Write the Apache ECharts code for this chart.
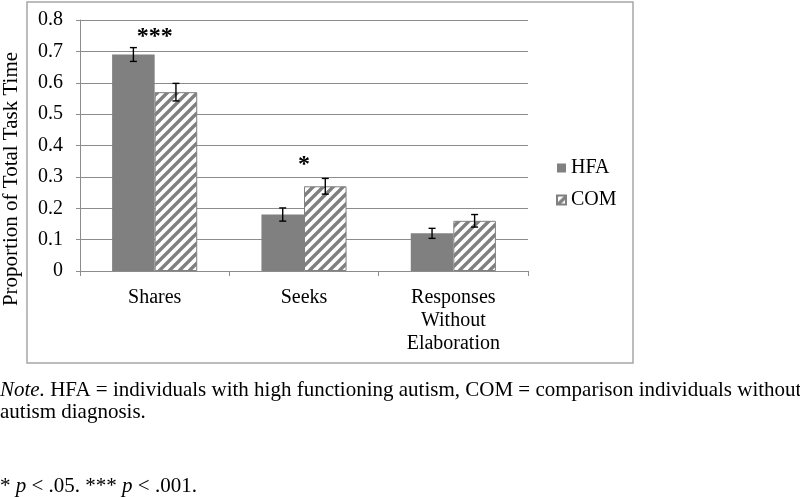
<!DOCTYPE html>
<html>
<head>
<meta charset="utf-8">
<script src="https://cdn.jsdelivr.net/npm/echarts@6/dist/echarts.min.js"></script>
<style>
html,body{margin:0;padding:0;background:#fff;}
#chart{width:800px;height:497px;}
</style>
</head>
<body>
<div id="chart"></div>
<script>
var categories = ['Shares', 'Seeks', 'Responses\nWithout\nElaboration'];
var hfaValues = [0.69, 0.18, 0.12];
var comValues = [0.57, 0.27, 0.16];
var hfaErrors = [0.022, 0.021, 0.016];
var comErrors = [0.028, 0.025, 0.02];
var sigLabels = ['***', '*', ''];
var sigLevel = [0.745, 0.338, 0];
var yTicks = [0, 0.1, 0.2, 0.3, 0.4, 0.5, 0.6, 0.7, 0.8];
var yTitle = 'Proportion of Total Task Time';

var SERIF = '"Liberation Serif","Times New Roman",serif';
var GAP = 0.43;

function makeHatch() {
  var c = document.createElement('canvas');
  c.width = 10; c.height = 10;
  var g = c.getContext('2d');
  g.fillStyle = '#ffffff';
  g.fillRect(0, 0, 10, 10);
  g.strokeStyle = '#808080';
  g.lineWidth = 3.4;
  g.beginPath();
  for (var k = -1; k <= 1; k++) {
    g.moveTo(-2 + k * 10, 12);
    g.lineTo(12 + k * 10, -2);
  }
  g.stroke();
  return c;
}
var hatch = makeHatch();

function errorSeries(values, errors, side) {
  return {
    type: 'custom',
    z: 5,
    silent: true,
    renderItem: function (params, api) {
      var idx = api.value(0);
      var mean = api.value(1);
      var err = api.value(2);
      var band = api.size([1, 0])[0];
      var bw = band * (1 - GAP) / 2;
      var top = api.coord([idx, mean + err]);
      var bot = api.coord([idx, mean - err]);
      var x = top[0] + side * bw / 2;
      var cap = 3.5;
      var st = {stroke: '#000', lineWidth: 1.4};
      return {
        type: 'group',
        children: [
          {type: 'line', shape: {x1: x, y1: top[1], x2: x, y2: bot[1]}, style: st},
          {type: 'line', shape: {x1: x - cap, y1: top[1], x2: x + cap, y2: top[1]}, style: st},
          {type: 'line', shape: {x1: x - cap, y1: bot[1], x2: x + cap, y2: bot[1]}, style: st}
        ]
      };
    },
    data: values.map(function (v, i) { return [i, v, errors[i]]; })
  };
}

var chart = echarts.init(document.getElementById('chart'), null, {renderer: 'canvas'});
chart.setOption({
  animation: false,
  backgroundColor: '#ffffff',
  grid: {left: 80, right: 272, top: 20, bottom: 226, containLabel: false, outerBoundsMode: 'none'},
  legend: {
    orient: 'vertical',
    left: 551,
    top: 153,
    icon: 'rect',
    itemWidth: 9,
    itemHeight: 9,
    itemGap: 12,
    textStyle: {fontFamily: SERIF, fontSize: 20, color: '#000'},
    data: ['HFA', 'COM']
  },
  xAxis: {
    type: 'category',
    data: categories,
    axisLine: {lineStyle: {color: '#8c8c8c', width: 1}},
    axisTick: {show: true, length: 5, lineStyle: {color: '#8c8c8c'}},
    axisLabel: {fontFamily: SERIF, fontSize: 20, color: '#000', lineHeight: 23, margin: 15}
  },
  yAxis: {
    type: 'value',
    min: 0, max: 0.8, interval: 0.1,
    axisLine: {show: true, lineStyle: {color: '#8c8c8c'}},
    axisTick: {show: true, length: 4, lineStyle: {color: '#8c8c8c'}},
    splitLine: {lineStyle: {color: '#8c8c8c', width: 1}},
    axisLabel: {
      fontFamily: SERIF, fontSize: 20, color: '#000', margin: 17,
      formatter: function (v) {
        for (var i = 0; i < yTicks.length; i++) {
          if (Math.abs(yTicks[i] - v) < 1e-9) return v === 0 ? '0' : yTicks[i].toFixed(1);
        }
        return '';
      }
    }
  },
  series: [
    {
      name: 'HFA', type: 'bar', data: hfaValues,
      barGap: '0%', barCategoryGap: (GAP * 100) + '%',
      itemStyle: {color: '#808080'}
    },
    {
      name: 'COM', type: 'bar', data: comValues,
      barGap: '0%', barCategoryGap: (GAP * 100) + '%',
      itemStyle: {color: {image: hatch, repeat: 'repeat'}, borderColor: '#808080', borderWidth: 1}
    },
    errorSeries(hfaValues, hfaErrors, -1),
    errorSeries(comValues, comErrors, 1),
    {
      type: 'custom',
      silent: true,
      z: 6,
      renderItem: function (params, api) {
        var idx = api.value(0);
        var p = api.coord([idx, api.value(1)]);
        return {
          type: 'text',
          x: p[0], y: p[1],
          style: {
            text: sigLabels[idx],
            fontFamily: SERIF, fontSize: 24, fontWeight: 'bold',
            fill: '#000', align: 'center', verticalAlign: 'middle'
          }
        };
      },
      data: sigLevel.map(function (v, i) { return [i, v]; })
    }
  ],
  graphic: [
    {type: 'rect', shape: {x: 27, y: 2, width: 606, height: 361}, style: {fill: 'none', stroke: '#a6a6a6', lineWidth: 1.5}, silent: true, z: -1},
    {
      type: 'text', x: 11, y: 179, rotation: Math.PI / 2,
      style: {text: yTitle, fontFamily: SERIF, fontSize: 21, fill: '#000', align: 'center', verticalAlign: 'middle'}
    },
    {
      type: 'text', left: 0, top: 380,
      style: {
        text: '{i|Note.} HFA = individuals with high functioning autism, COM = comparison individuals without',
        fontFamily: SERIF, fontSize: 21, fill: '#000',
        rich: {i: {fontStyle: 'italic', fontFamily: SERIF, fontSize: 21}}
      }
    },
    {
      type: 'text', left: 0, top: 402,
      style: {text: 'autism diagnosis.', fontFamily: SERIF, fontSize: 21, fill: '#000'}
    },
    {
      type: 'text', left: 0, top: 476,
      style: {
        text: '* {i|p} < .05. *** {i|p} < .001.',
        fontFamily: SERIF, fontSize: 21, fill: '#000',
        rich: {i: {fontStyle: 'italic', fontFamily: SERIF, fontSize: 21}}
      }
    }
  ]
});
</script>
</body>
</html>
